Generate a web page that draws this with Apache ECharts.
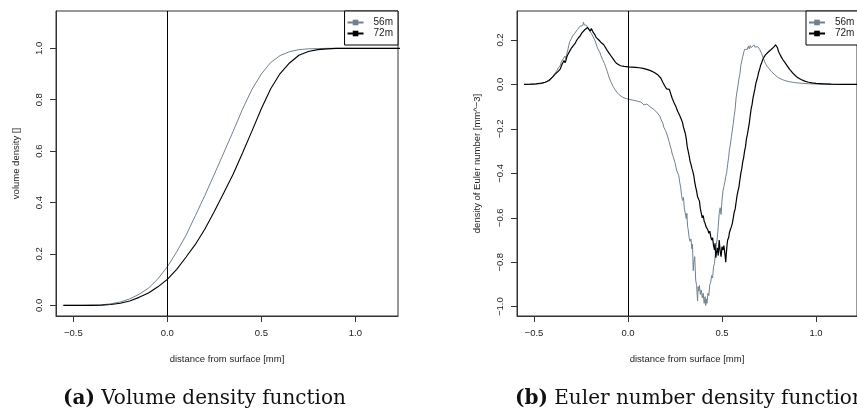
<!DOCTYPE html>
<html>
<head>
<meta charset="utf-8">
<script src="https://cdn.jsdelivr.net/npm/echarts@6/dist/echarts.min.js"></script>
<style>
html,body{margin:0;padding:0;background:#fff;}
#chart{width:857px;height:411px;}
</style>
</head>
<body>
<div id="chart"></div>
<script>
// ---------- Data ----------
const seriesNames = ['56m', '72m'];
const xTicks = [-0.5, 0, 0.5, 1.0];
const volYTicks = [0, 0.2, 0.4, 0.6, 0.8, 1.0];
const eulYTicks = [-1.0, -0.8, -0.6, -0.4, -0.2, 0, 0.2];

// (a) volume density
const volX = [-0.553,-0.50,-0.45,-0.40,-0.35,-0.30,-0.25,-0.20,-0.15,-0.10,-0.05,0.00,0.05,0.10,0.15,0.20,0.25,0.30,0.35,0.40,0.45,0.50,0.55,0.60,0.65,0.70,0.75,0.80,0.85,0.90,0.95,1.00,1.10,1.25];
const vol56 = [0.000,0.000,0.000,0.001,0.002,0.006,0.013,0.025,0.043,0.067,0.103,0.150,0.208,0.273,0.350,0.428,0.510,0.593,0.677,0.763,0.840,0.900,0.945,0.972,0.987,0.995,0.998,0.999,1.000,1.000,1.000,1.000,1.000,1.000];
const vol72 = [0.000,0.000,0.000,0.000,0.001,0.003,0.008,0.017,0.031,0.048,0.072,0.101,0.140,0.188,0.238,0.297,0.365,0.437,0.510,0.593,0.678,0.765,0.843,0.902,0.943,0.973,0.988,0.995,0.998,1.000,1.000,1.000,1.000,1.000];

// (b) Euler number density
const eulX56 = [-0.553,-0.52,-0.49,-0.46,-0.44,-0.42,-0.41,-0.40,-0.39,-0.38,-0.37,-0.36,-0.355,-0.35,-0.345,-0.34,-0.335,-0.33,-0.325,-0.32,-0.315,-0.31,-0.305,-0.30,-0.295,-0.29,-0.285,-0.28,-0.275,-0.27,-0.265,-0.26,-0.255,-0.25,-0.245,-0.24,-0.237,-0.233,-0.23,-0.225,-0.22,-0.215,-0.21,-0.205,-0.20,-0.195,-0.19,-0.185,-0.18,-0.175,-0.17,-0.165,-0.16,-0.155,-0.15,-0.145,-0.14,-0.135,-0.13,-0.125,-0.12,-0.115,-0.11,-0.105,-0.10,-0.095,-0.09,-0.085,-0.08,-0.07,-0.06,-0.05,-0.04,-0.03,-0.02,-0.01,0,0.01,0.02,0.03,0.04,0.05,0.06,0.07,0.075,0.08,0.085,0.09,0.095,0.10,0.11,0.12,0.13,0.14,0.15,0.16,0.165,0.17,0.175,0.18,0.183,0.186,0.19,0.195,0.20,0.205,0.21,0.215,0.22,0.225,0.23,0.235,0.24,0.245,0.25,0.255,0.26,0.265,0.27,0.275,0.28,0.285,0.29,0.295,0.30,0.305,0.31,0.313,0.317,0.32,0.325,0.33,0.335,0.34,0.343,0.347,0.35,0.355,0.36,0.365,0.37,0.373,0.377,0.38,0.385,0.39,0.395,0.40,0.405,0.41,0.413,0.417,0.42,0.425,0.43,0.435,0.44,0.445,0.45,0.455,0.46,0.465,0.47,0.475,0.48,0.485,0.49,0.495,0.50,0.505,0.51,0.515,0.52,0.525,0.53,0.535,0.54,0.545,0.55,0.555,0.56,0.565,0.57,0.575,0.58,0.585,0.59,0.595,0.60,0.605,0.61,0.615,0.62,0.625,0.63,0.635,0.64,0.645,0.65,0.655,0.66,0.665,0.67,0.675,0.68,0.685,0.69,0.695,0.70,0.705,0.71,0.715,0.72,0.725,0.73,0.735,0.74,0.75,0.76,0.77,0.78,0.79,0.80,0.82,0.84,0.86,0.88,0.90,0.93,0.96,1.00,1.05,1.10,1.16,1.25];
const eul56 = [0,0,0.001,0.004,0.010,0.020,0.028,0.036,0.047,0.060,0.075,0.086,0.100,0.094,0.115,0.118,0.128,0.112,0.140,0.155,0.176,0.192,0.200,0.208,0.218,0.212,0.228,0.236,0.230,0.246,0.240,0.255,0.262,0.258,0.270,0.265,0.280,0.268,0.272,0.262,0.266,0.256,0.250,0.242,0.244,0.230,0.222,0.214,0.206,0.196,0.188,0.170,0.160,0.152,0.145,0.132,0.124,0.112,0.104,0.094,0.082,0.070,0.058,0.044,0.030,0.020,0.010,0.002,-0.008,-0.022,-0.034,-0.044,-0.051,-0.057,-0.061,-0.064,-0.066,-0.068,-0.070,-0.071,-0.074,-0.075,-0.077,-0.080,-0.078,-0.086,-0.092,-0.087,-0.090,-0.088,-0.097,-0.102,-0.108,-0.114,-0.122,-0.132,-0.140,-0.144,-0.156,-0.164,-0.150,-0.176,-0.192,-0.186,-0.208,-0.214,-0.232,-0.240,-0.262,-0.278,-0.292,-0.312,-0.324,-0.318,-0.352,-0.372,-0.390,-0.386,-0.410,-0.440,-0.462,-0.500,-0.522,-0.508,-0.560,-0.552,-0.604,-0.580,-0.640,-0.652,-0.688,-0.706,-0.696,-0.740,-0.720,-0.838,-0.800,-0.775,-0.880,-0.905,-0.975,-0.910,-0.930,-0.905,-0.945,-0.925,-0.960,-0.940,-0.985,-0.955,-0.995,-0.965,-0.985,-0.940,-0.950,-0.900,-0.890,-0.860,-0.870,-0.820,-0.805,-0.760,-0.720,-0.690,-0.640,-0.580,-0.555,-0.585,-0.520,-0.480,-0.460,-0.440,-0.415,-0.395,-0.360,-0.330,-0.290,-0.268,-0.235,-0.205,-0.175,-0.140,-0.110,-0.060,-0.030,-0.005,0.025,0.045,0.085,0.105,0.125,0.142,0.158,0.150,0.165,0.158,0.172,0.160,0.175,0.165,0.172,0.160,0.178,0.168,0.174,0.162,0.170,0.164,0.158,0.150,0.140,0.128,0.118,0.108,0.096,0.090,0.082,0.072,0.060,0.052,0.044,0.036,0.030,0.022,0.016,0.012,0.009,0.007,0.005,0.003,0.002,0.001,0,0,0];

const eulX72 = [-0.553,-0.52,-0.49,-0.46,-0.44,-0.42,-0.41,-0.40,-0.39,-0.38,-0.37,-0.36,-0.355,-0.35,-0.345,-0.34,-0.335,-0.33,-0.325,-0.32,-0.315,-0.31,-0.305,-0.30,-0.295,-0.29,-0.285,-0.28,-0.275,-0.27,-0.265,-0.26,-0.255,-0.25,-0.245,-0.24,-0.235,-0.23,-0.225,-0.22,-0.215,-0.21,-0.205,-0.20,-0.195,-0.19,-0.185,-0.18,-0.175,-0.17,-0.165,-0.16,-0.155,-0.15,-0.145,-0.14,-0.135,-0.13,-0.125,-0.12,-0.115,-0.11,-0.105,-0.10,-0.095,-0.09,-0.085,-0.08,-0.075,-0.07,-0.065,-0.06,-0.055,-0.05,-0.04,-0.03,-0.02,-0.01,0,0.02,0.04,0.06,0.08,0.09,0.10,0.105,0.11,0.12,0.13,0.14,0.15,0.16,0.17,0.175,0.18,0.185,0.19,0.195,0.20,0.205,0.21,0.215,0.22,0.225,0.23,0.235,0.24,0.245,0.25,0.255,0.26,0.265,0.27,0.275,0.28,0.285,0.29,0.295,0.30,0.303,0.307,0.31,0.315,0.32,0.325,0.33,0.335,0.34,0.345,0.35,0.355,0.36,0.365,0.37,0.375,0.38,0.385,0.39,0.395,0.40,0.405,0.41,0.415,0.42,0.425,0.43,0.435,0.44,0.445,0.45,0.455,0.46,0.463,0.467,0.47,0.475,0.48,0.485,0.49,0.495,0.50,0.505,0.51,0.515,0.52,0.523,0.527,0.53,0.535,0.54,0.545,0.55,0.555,0.56,0.565,0.57,0.575,0.58,0.585,0.59,0.595,0.60,0.605,0.61,0.615,0.62,0.625,0.63,0.635,0.64,0.645,0.65,0.655,0.66,0.665,0.67,0.675,0.68,0.685,0.69,0.695,0.70,0.705,0.71,0.715,0.72,0.725,0.73,0.735,0.74,0.745,0.75,0.755,0.76,0.765,0.77,0.775,0.78,0.785,0.79,0.795,0.80,0.805,0.81,0.815,0.82,0.825,0.83,0.835,0.84,0.845,0.85,0.86,0.87,0.88,0.89,0.90,0.92,0.94,0.96,0.98,1.00,1.04,1.08,1.15,1.25];
const eul72 = [0,0.001,0.003,0.006,0.010,0.018,0.025,0.034,0.044,0.052,0.060,0.070,0.082,0.092,0.100,0.108,0.098,0.108,0.125,0.135,0.128,0.150,0.158,0.165,0.160,0.176,0.172,0.186,0.196,0.200,0.208,0.214,0.218,0.222,0.232,0.228,0.240,0.246,0.252,0.244,0.256,0.250,0.254,0.240,0.252,0.246,0.234,0.226,0.222,0.212,0.216,0.204,0.200,0.196,0.190,0.194,0.186,0.180,0.172,0.166,0.160,0.152,0.146,0.140,0.134,0.128,0.122,0.116,0.110,0.104,0.098,0.094,0.090,0.087,0.084,0.082,0.081,0.080,0.079,0.078,0.077,0.075,0.072,0.070,0.068,0.062,0.066,0.062,0.058,0.054,0.048,0.042,0.034,0.028,0.020,0.010,0.004,-0.006,-0.012,-0.020,-0.016,-0.028,-0.022,-0.036,-0.050,-0.062,-0.070,-0.082,-0.090,-0.100,-0.112,-0.122,-0.118,-0.140,-0.150,-0.160,-0.172,-0.192,-0.200,-0.215,-0.230,-0.245,-0.280,-0.300,-0.320,-0.345,-0.360,-0.378,-0.392,-0.410,-0.440,-0.462,-0.480,-0.505,-0.498,-0.525,-0.560,-0.580,-0.600,-0.590,-0.615,-0.625,-0.640,-0.632,-0.655,-0.670,-0.660,-0.685,-0.700,-0.690,-0.725,-0.745,-0.715,-0.780,-0.760,-0.735,-0.770,-0.700,-0.750,-0.775,-0.730,-0.745,-0.725,-0.760,-0.800,-0.760,-0.720,-0.700,-0.690,-0.665,-0.672,-0.640,-0.625,-0.600,-0.575,-0.560,-0.530,-0.500,-0.480,-0.462,-0.430,-0.400,-0.380,-0.350,-0.330,-0.300,-0.280,-0.245,-0.225,-0.200,-0.175,-0.140,-0.110,-0.090,-0.060,-0.040,-0.020,0.005,0.020,0.035,0.055,0.068,0.085,0.095,0.108,0.118,0.125,0.132,0.128,0.140,0.145,0.150,0.148,0.156,0.160,0.158,0.168,0.165,0.178,0.182,0.165,0.150,0.140,0.132,0.124,0.118,0.110,0.105,0.098,0.092,0.086,0.078,0.068,0.058,0.048,0.040,0.032,0.022,0.015,0.010,0.007,0.005,0.003,0.001,0,0];

// ---------- Build ----------
function zip(xs, ys){ return xs.map((x,i)=>[x, ys[i]]); }
const col56 = '#708090', col72 = '#000000';
const fmt = v => (Math.abs(v) < 1e-9 ? 0 : v).toFixed(1).replace('-', '\u2212');
const tickFont = {fontFamily:'Liberation Sans, Arial, sans-serif', fontSize:9.5, color:'#222'};

function xAxisFor(gi, min, max){
  return {
    type:'value', gridIndex:gi, min:min, max:max,
    name:'distance from surface [mm]', nameLocation:'middle', nameGap:38,
    nameTextStyle:{fontFamily:'Liberation Sans, Arial, sans-serif', fontSize:9.5, color:'#222'},
    axisLine:{show:true, onZero:false, lineStyle:{color:'#333', width:1}},
    axisTick:{show:true, inside:false, length:6, customValues:xTicks, lineStyle:{color:'#333', width:1}},
    axisLabel:Object.assign({show:true, margin:12, customValues:xTicks, formatter:fmt}, tickFont),
    splitLine:{show:false}
  };
}
function yAxisFor(gi, min, max, ticks, name){
  return {
    type:'value', gridIndex:gi, min:min, max:max,
    name:name, nameLocation:'middle', nameGap:35, nameRotate:90,
    nameTextStyle:{fontFamily:'Liberation Sans, Arial, sans-serif', fontSize:9.5, color:'#222'},
    axisLine:{show:true, onZero:false, lineStyle:{color:'#333', width:1}},
    axisTick:{show:true, inside:false, length:6, customValues:ticks, lineStyle:{color:'#333', width:1}},
    axisLabel:Object.assign({show:true, rotate:90, margin:12, customValues:ticks, formatter:fmt}, tickFont),
    splitLine:{show:false}
  };
}
function lineSeries(name, gi, data, color, width, withMark){
  const s = {
    type:'line', name:name, xAxisIndex:gi, yAxisIndex:gi, data:data,
    showSymbol:false, symbol:'rect', symbolSize:5, smooth:false,
    lineStyle:{color:color, width:width}, itemStyle:{color:color},
    silent:true, animation:false, clip:true
  };
  if (withMark) {
    s.markLine = {silent:true, symbol:['none','none'], label:{show:false},
      lineStyle:{color:'#000', width:1, type:'solid'}, data:[{xAxis:0}], animation:false};
  }
  return s;
}
function legendFor(pos){
  return Object.assign({
    orient:'vertical', top:11, data:seriesNames,
    itemWidth:16, itemHeight:7, itemGap:0, padding:[6,5,6,2],
    borderColor:'#000', borderWidth:1, backgroundColor:'#fff',
    selectedMode:false,
    textStyle:{fontFamily:'Liberation Sans, Arial, sans-serif', fontSize:10, lineHeight:11, color:'#222', padding:[0,0,0,5]}
  }, pos);
}

const chart = echarts.init(document.getElementById('chart'), null, {renderer:'canvas'});
chart.setOption({
  animation:false,
  backgroundColor:'#fff',
  grid:[
    {left:56, top:11, width:342, height:305, show:true, borderColor:'#333', borderWidth:1, containLabel:false},
    {left:517, top:11, width:340, height:305, show:true, borderColor:'#333', borderWidth:1, containLabel:false}
  ],
  xAxis:[xAxisFor(0, -0.592, 1.227), xAxisFor(1, -0.5904, 1.218)],
  yAxis:[
    yAxisFor(0, -0.0415, 1.1453, volYTicks, 'volume density []'),
    yAxisFor(1, -1.042, 0.3305, eulYTicks, 'density of Euler number [mm^\u22123]')
  ],
  legend:[legendFor({right:459}), legendFor({left:806})],
  series:[
    lineSeries('56m', 0, zip(volX, vol56), col56, 1, false),
    lineSeries('72m', 0, zip(volX, vol72), col72, 1.1, true),
    lineSeries('56m', 1, zip(eulX56, eul56), col56, 1, false),
    lineSeries('72m', 1, zip(eulX72, eul72), col72, 1.2, true)
  ],
  graphic:[
    {type:'text', left:63, top:389, silent:true,
     style:{text:'{b|(a)} Volume density function', fontFamily:'DejaVu Serif, serif', fontSize:20, fill:'#111',
       rich:{b:{fontFamily:'DejaVu Serif, serif', fontWeight:'bold', fontSize:20, fill:'#111'}}}},
    {type:'text', left:515, top:389, silent:true,
     style:{text:'{b|(b)} Euler number density function', fontFamily:'DejaVu Serif, serif', fontSize:20, fill:'#111',
       rich:{b:{fontFamily:'DejaVu Serif, serif', fontWeight:'bold', fontSize:20, fill:'#111'}}}}
  ]
});
</script>
</body>
</html>
